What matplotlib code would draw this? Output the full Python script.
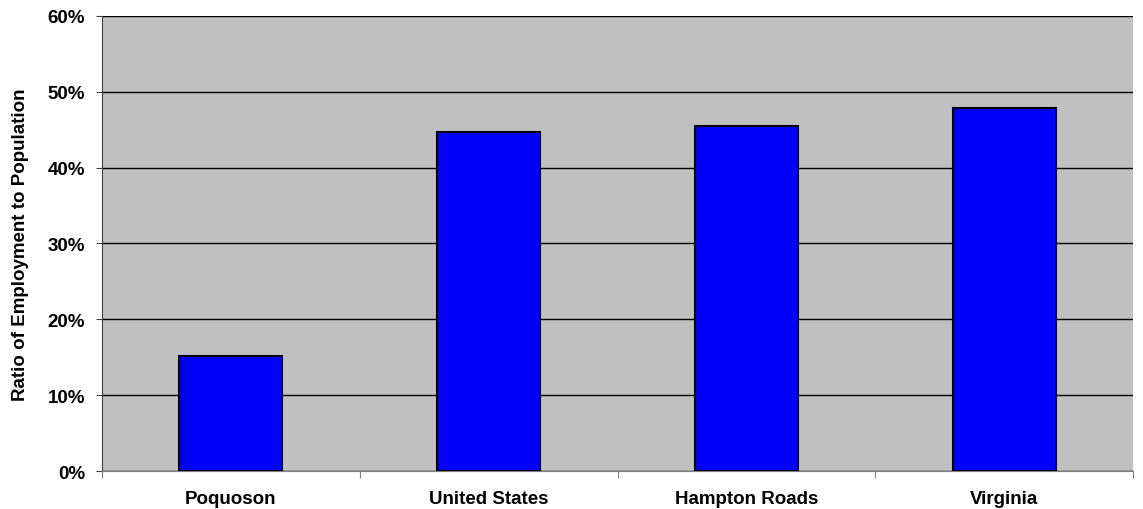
import matplotlib.pyplot as plt
import numpy as np
from matplotlib.ticker import PercentFormatter

categories = ['Poquoson', 'United States', 'Hampton Roads', 'Virginia']
ratios = [15.1, 44.7, 45.5, 47.9]
yticks = [0, 10, 20, 30, 40, 50, 60]

plt.rcParams['font.family'] = ['Liberation Sans', 'DejaVu Sans']

fig = plt.figure(figsize=(11.43, 5.10), dpi=100)
ax = fig.add_axes([0.0892, 0.0745, 0.9021, 0.8922])
ax.set_facecolor('#c0c0c0')

x = np.arange(len(categories))
ax.bar(x, ratios, width=0.40, color='#0000ff', edgecolor='black', linewidth=1.5, zorder=3)

ax.set_xlim(-0.5, len(categories) - 0.5)
ax.set_ylim(0, 60)
ax.set_yticks(yticks)
ax.yaxis.set_major_formatter(PercentFormatter(decimals=0))
ax.yaxis.grid(True, color='black', linewidth=1.0, zorder=1)
ax.set_axisbelow(True)

# category ticks sit at the boundaries, labels in the middle
ax.set_xticks(np.arange(-0.5, len(categories) + 0.5, 1.0))
ax.set_xticklabels([])
ax.set_xticks(x, minor=True)
ax.set_xticklabels(categories, minor=True, fontsize=13.5, fontweight='bold')
ax.tick_params(axis='x', which='minor', length=0, pad=14)
ax.tick_params(axis='x', which='major', length=5, color='#808080', direction='out')
ax.tick_params(axis='y', length=4.5, color='#404040', labelsize=13.5, pad=7.5)
for lbl in ax.get_yticklabels():
    lbl.set_fontweight('bold')

ax.spines['top'].set_visible(False)
ax.spines['right'].set_visible(False)
ax.spines['left'].set_color('#404040')
ax.spines['bottom'].set_color('#808080')

ax.set_ylabel('Ratio of Employment to Population', fontsize=13.5, fontweight='bold')
ax.yaxis.set_label_coords(-0.071, 0.5)

fig.savefig('out.png', dpi=100)
